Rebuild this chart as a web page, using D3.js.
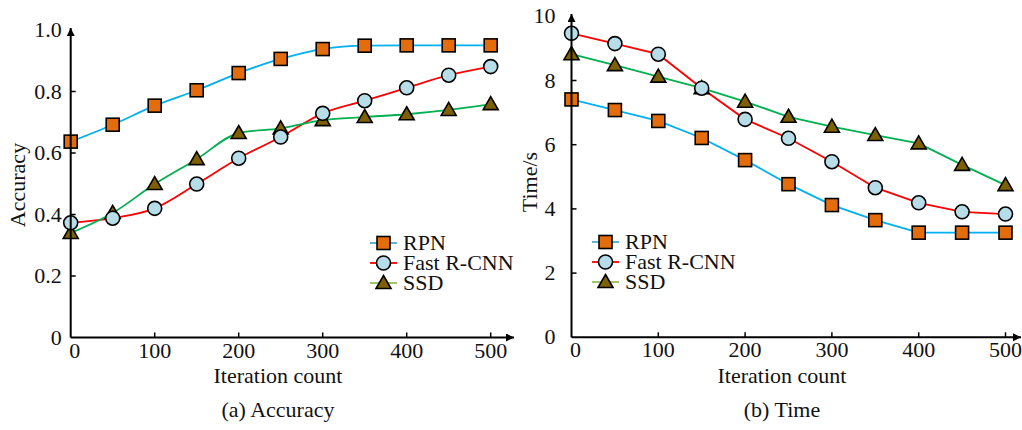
<!DOCTYPE html>
<html>
<head>
<meta charset="utf-8">
<script src="https://cdn.jsdelivr.net/npm/d3@7"></script>
<style>
  body { margin: 0; background: #fff; }
  svg text { font-family: "Liberation Serif", "Times New Roman", serif; fill: #111; }
</style>
</head>
<body>
<div id="vis"></div>
<script>
// Datos
const iterations = [0, 50, 100, 150, 200, 250, 300, 350, 400, 450, 500];
const seriesNames = ["RPN", "Fast R-CNN", "SSD"];

const accRPN  = [0.637, 0.692, 0.754, 0.804, 0.860, 0.906, 0.938, 0.949, 0.950, 0.950, 0.950];
const accFast = [0.373, 0.388, 0.420, 0.499, 0.583, 0.652, 0.729, 0.770, 0.812, 0.853, 0.881];
const accSSD  = [0.340, 0.405, 0.499, 0.580, 0.665, 0.680, 0.707, 0.717, 0.726, 0.740, 0.759];

const timeRPN  = [7.41, 7.08, 6.74, 6.21, 5.52, 4.77, 4.12, 3.65, 3.26, 3.26, 3.26];
const timeFast = [9.47, 9.15, 8.82, 7.76, 6.79, 6.20, 5.47, 4.66, 4.19, 3.91, 3.84];
const timeSSD  = [8.82, 8.48, 8.12, 7.76, 7.34, 6.87, 6.56, 6.30, 6.04, 5.37, 4.74];

const xTicks = [0, 100, 200, 300, 400, 500];
const accTicks = [0, 0.2, 0.4, 0.6, 0.8, 1.0];
const timeTicks = [0, 2, 4, 6, 8, 10];

const WIDTH = 1022, HEIGHT = 430;
const FONT = 22;

// Estilos de cada serie
const styles = {
  "RPN":        { line: "#00b0f0", legendLine: "#4bacc6", fill: "#e46c0a", shape: "square" },
  "Fast R-CNN": { line: "#ff0000", legendLine: "#ff0000", fill: "#b7dde8", shape: "circle" },
  "SSD":        { line: "#00b050", legendLine: "#9bbb59", fill: "#7f6000", shape: "triangle" }
};

const svg = d3.select("#vis").append("svg")
  .attr("width", WIDTH).attr("height", HEIGHT);

svg.append("defs").append("marker")
  .attr("id", "arrow")
  .attr("viewBox", "0 0 10 10")
  .attr("refX", 10).attr("refY", 5)
  .attr("markerWidth", 10).attr("markerHeight", 8)
  .attr("markerUnits", "userSpaceOnUse")
  .attr("orient", "auto")
  .append("path").attr("d", "M0,0 L10,5 L0,10 Z").attr("fill", "#000");

function drawMarker(g, shape, cx, cy, fill) {
  if (shape === "square") {
    g.append("rect").attr("x", cx - 6.5).attr("y", cy - 6.5)
      .attr("width", 13).attr("height", 13)
      .attr("fill", fill).attr("stroke", "#000").attr("stroke-width", 1.6);
  } else if (shape === "circle") {
    g.append("circle").attr("cx", cx).attr("cy", cy).attr("r", 7)
      .attr("fill", fill).attr("stroke", "#000").attr("stroke-width", 1.6);
  } else {
    g.append("path")
      .attr("d", `M${cx},${cy - 7.5} L${cx + 7.5},${cy + 5.5} L${cx - 7.5},${cy + 5.5} Z`)
      .attr("fill", fill).attr("stroke", "#000").attr("stroke-width", 1.6)
      .attr("stroke-linejoin", "miter");
  }
}

function drawPanel(opts) {
  const { x0, x1, y0, y1, yMax, yTicks, yFmt, data, curve, yLabel, yLabelX, yLabelY, caption, labelCX,
          legendX, legendY, yTickGap, axisEndX, axisTopY } = opts;

  const x = d3.scaleLinear().domain([0, 500]).range([x0, x1]);
  const y = d3.scaleLinear().domain([0, yMax]).range([y0, y1]);
  const g = svg.append("g");

  // Líneas
  const line = d3.line().x((d, i) => x(iterations[i])).y(d => y(d)).curve(curve);
  seriesNames.forEach((name, k) => {
    g.append("path").datum(data[k])
      .attr("d", line)
      .attr("fill", "none")
      .attr("stroke", styles[name].line)
      .attr("stroke-width", 1.8);
  });

  // Marcadores
  [0, 2, 1].forEach(k => {
    const name = seriesNames[k];
    data[k].forEach((v, i) => drawMarker(g, styles[name].shape, x(iterations[i]), y(v), styles[name].fill));
  });

  // Ejes con flecha
  g.append("line").attr("x1", x0).attr("x2", axisEndX).attr("y1", y0).attr("y2", y0)
    .attr("stroke", "#000").attr("stroke-width", 2).attr("marker-end", "url(#arrow)");
  g.append("line").attr("x1", x0).attr("x2", x0).attr("y1", y0).attr("y2", axisTopY)
    .attr("stroke", "#000").attr("stroke-width", 2).attr("marker-end", "url(#arrow)");

  // Ticks X
  xTicks.forEach(t => {
    if (t > 0) g.append("line").attr("x1", x(t)).attr("x2", x(t)).attr("y1", y0).attr("y2", y0 - 5)
      .attr("stroke", "#000").attr("stroke-width", 1.5);
    g.append("text").attr("x", x(t) + (t === 0 ? 4 : 0)).attr("y", y0 + 20)
      .attr("text-anchor", "middle").attr("font-size", FONT).text(t);
  });

  // Ticks Y
  yTicks.forEach(t => {
    if (t > 0 && t < yMax) g.append("line").attr("x1", x0).attr("x2", x0 + 5).attr("y1", y(t)).attr("y2", y(t))
      .attr("stroke", "#000").attr("stroke-width", 1.5);
    g.append("text").attr("x", x0 - yTickGap).attr("y", y(t) + 7)
      .attr("text-anchor", "end").attr("font-size", FONT).text(yFmt(t));
  });

  // Etiquetas
  g.append("text").attr("x", labelCX).attr("y", 383).attr("text-anchor", "middle")
    .attr("font-size", FONT).text("Iteration count");
  g.append("text").attr("x", labelCX).attr("y", 417).attr("text-anchor", "middle")
    .attr("font-size", FONT).text(caption);
  g.append("text")
    .attr("transform", `translate(${yLabelX},${yLabelY}) rotate(-90)`)
    .attr("text-anchor", "middle").attr("font-size", FONT).text(yLabel);

  // Leyenda
  seriesNames.forEach((name, k) => {
    const ly = legendY + k * 20;
    g.append("line").attr("x1", legendX).attr("x2", legendX + 27).attr("y1", ly).attr("y2", ly)
      .attr("stroke", styles[name].legendLine).attr("stroke-width", 1.8);
    drawMarker(g, styles[name].shape, legendX + 13.5, ly, styles[name].fill);
    g.append("text").attr("x", legendX + 33).attr("y", ly + 7)
      .attr("font-size", FONT).text(name);
  });
}

drawPanel({
  x0: 70.7, x1: 490.7, y0: 337.5, y1: 30, yMax: 1, yTicks: accTicks,
  yFmt: d => d === 0 ? "0" : d.toFixed(1),
  data: [accRPN, accFast, accSSD], curve: d3.curveMonotoneX,
  yLabel: "Accuracy", yLabelX: 25, yLabelY: 185, caption: "(a) Accuracy", labelCX: 278,
  legendX: 370, legendY: 243, yTickGap: 9, axisEndX: 514, axisTopY: 28
});

drawPanel({
  x0: 571.5, x1: 1005.5, y0: 337.3, y1: 16.3, yMax: 10, yTicks: timeTicks,
  yFmt: d => String(d),
  data: [timeRPN, timeFast, timeSSD], curve: d3.curveLinear,
  yLabel: "Time/s", yLabelX: 537, yLabelY: 182, caption: "(b) Time", labelCX: 782,
  legendX: 592, legendY: 242, yTickGap: 16, axisEndX: 1021, axisTopY: 14
});
</script>
</body>
</html>
